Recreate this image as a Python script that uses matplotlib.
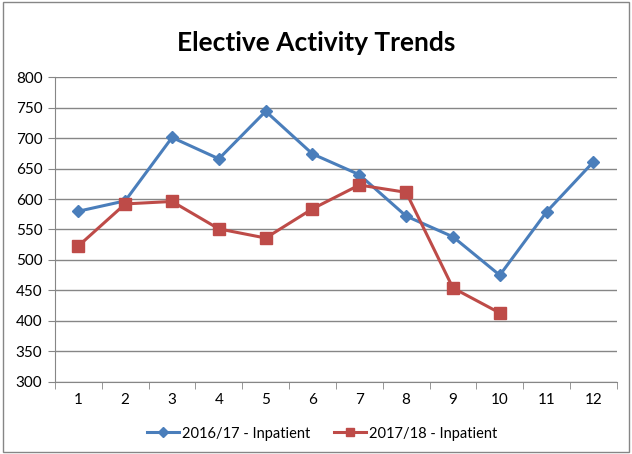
import matplotlib.pyplot as plt
from matplotlib.patches import Rectangle

months = [1, 2, 3, 4, 5, 6, 7, 8, 9, 10, 11, 12]
inpatient_1617 = [580, 597, 701, 666, 744, 674, 640, 572, 538, 475, 579, 661]
months_1718 = [1, 2, 3, 4, 5, 6, 7, 8, 9, 10]
inpatient_1718 = [523, 592, 596, 551, 536, 584, 623, 611, 454, 413]

plt.rcParams['font.family'] = ['Lato', 'DejaVu Sans']

fig = plt.figure(figsize=(6.32, 4.54), dpi=100)
ax = fig.add_axes([0.087, 0.159, 0.889, 0.671])

ax.plot(months, inpatient_1617, color='#4A7EBB', lw=2.2, marker='D', ms=6,
        label='2016/17 - Inpatient')
ax.plot(months_1718, inpatient_1718, color='#BE4B48', lw=2.2, marker='s', ms=8,
        label='2017/18 - Inpatient')

ax.set_xlim(0.5, 12.5)
ax.set_ylim(300, 800)
ax.set_yticks(range(300, 801, 50))
ax.set_xticks(months)
ax.set_xticks([m + 0.5 for m in range(0, 13)], minor=True)
ax.tick_params(axis='x', which='major', length=0, pad=8, labelsize=11)
ax.tick_params(axis='x', which='minor', length=5, color='#868686', direction='out')
ax.tick_params(axis='y', length=5, color='#868686', labelsize=11, pad=4)
ax.grid(axis='y', color='#868686', lw=1)
ax.set_axisbelow(True)
for side in ['top', 'right']:
    ax.spines[side].set_visible(False)
for side in ['left', 'bottom']:
    ax.spines[side].set_color('#868686')

fig.text(0.5, 0.905, 'Elective Activity Trends', ha='center', va='center',
         fontsize=19, fontweight='bold')

ax.legend(loc='center', bbox_to_anchor=(0.475, -0.17), ncol=2, frameon=False,
          fontsize=10.5, handlelength=2.2, columnspacing=1.6, handletextpad=0.2,
          markerscale=0.8)

# chart border
fig.patches.append(Rectangle((0.004, 0.004), 0.992, 0.992, transform=fig.transFigure,
                             fill=False, edgecolor='#868686', lw=1))

fig.savefig('out.png', dpi=100)
